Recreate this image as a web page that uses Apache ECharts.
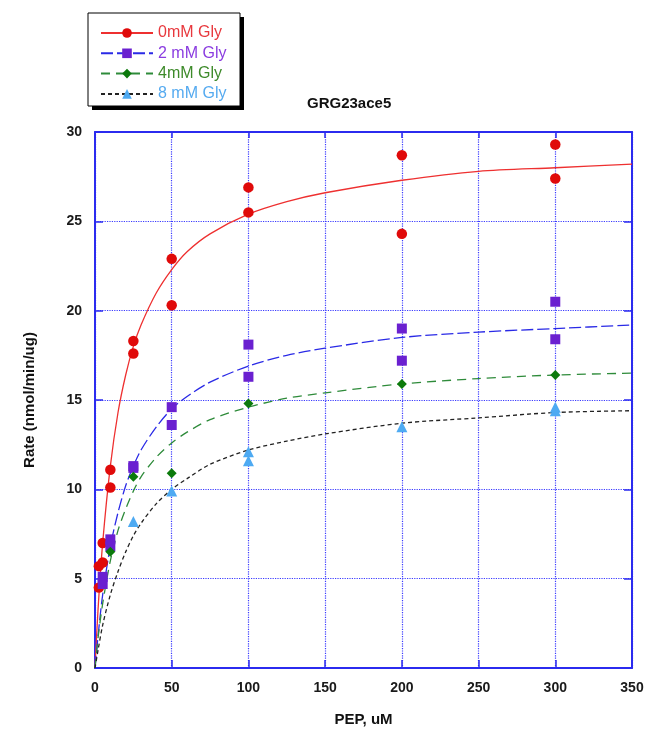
<!DOCTYPE html>
<html>
<head>
<meta charset="utf-8">
<title>GRG23ace5</title>
<script src="https://cdn.jsdelivr.net/npm/echarts@6/dist/echarts.min.js"></script>
<style>
  html, body { margin: 0; padding: 0; background: #fff; }
  #chart { width: 652px; height: 740px; }
</style>
</head>
<body>
<div id="chart"></div>
<script>
// measured points (PEP uM, rate)
const gly0X = [2.5, 2.5, 5, 5, 10, 10, 25, 25, 50, 50, 100, 100, 200, 200, 300, 300];
const gly0Y = [5.7, 4.5, 7.0, 5.9, 11.1, 10.1, 18.3, 17.6, 22.9, 20.3, 26.9, 25.5, 28.7, 24.3, 29.3, 27.4];
const gly2X = [5, 5, 10, 10, 25, 25, 50, 50, 100, 100, 200, 200, 300, 300];
const gly2Y = [5.1, 4.7, 7.2, 6.8, 11.3, 11.2, 14.6, 13.6, 18.1, 16.3, 19.0, 17.2, 20.5, 18.4];
const gly4X = [10, 25, 50, 100, 200, 300];
const gly4Y = [6.5, 10.7, 10.9, 14.8, 15.9, 16.4];
const gly8X = [25, 50, 100, 100, 200, 300, 300];
const gly8Y = [8.2, 9.9, 12.1, 11.6, 13.5, 14.6, 14.4];

// fitted curves
const curveX = [0, 2, 5, 10, 15, 20, 25, 30, 40, 50, 60, 75, 100, 125, 150, 200, 250, 300, 350];
const fit0 = [0, 3.3, 7.0, 11.3, 14.3, 16.4, 18.0, 19.2, 21.0, 22.3, 23.3, 24.3, 25.4, 26.1, 26.6, 27.3, 27.8, 28.0, 28.2];
const fit2 = [0, 1.8, 4.1, 6.8, 8.7, 10.2, 11.3, 12.2, 13.5, 14.5, 15.2, 16.0, 16.9, 17.5, 17.9, 18.5, 18.8, 19.0, 19.2];
const fit4 = [0, 1.7, 3.6, 6.0, 7.7, 8.9, 9.9, 10.7, 11.8, 12.6, 13.2, 13.9, 14.6, 15.1, 15.4, 15.9, 16.2, 16.4, 16.5];
const fit8 = [0, 1.0, 2.4, 4.1, 5.4, 6.5, 7.4, 8.1, 9.2, 10.0, 10.6, 11.4, 12.2, 12.7, 13.1, 13.7, 14.0, 14.3, 14.4];

const names = ['0mM Gly', '2 mM Gly', '4mM Gly', '8 mM Gly'];
const textColors = ['#e8383d', '#8a3ce0', '#3d8a2a', '#55aaf0'];

const pair = (xs, ys) => xs.map((x, i) => [x, ys[i]]);

const chart = echarts.init(document.getElementById('chart'));

const axisBlue = '#2b2bef';
const labelFont = { fontFamily: 'Liberation Sans, Arial, sans-serif', fontWeight: 'bold', fontSize: 14, color: '#1a1a1a' };

function curve(name, data, lineColor, dash, markColor, symbol) {
  return {
    name: name, type: 'line', data: data, smooth: 0.3,
    symbol: symbol, showSymbol: false, z: 2,
    itemStyle: { color: markColor },
    lineStyle: { color: lineColor, width: 1.3, type: dash },
    emphasis: { disabled: true }
  };
}
function points(name, data, color, symbol, size) {
  return {
    name: name, type: 'scatter', data: data, symbol: symbol, symbolSize: size, z: 5,
    itemStyle: { color: color, opacity: 1 }
  };
}

chart.setOption({
  animation: false,
  title: {
    text: 'GRG23ace5', left: 302, top: 91,
    textStyle: { fontFamily: 'Liberation Sans, Arial, sans-serif', fontWeight: 'bold', fontSize: 15, color: '#111' }
  },
  graphic: [
    { type: 'rect', z: 1, shape: { x: 92, y: 17, width: 152, height: 93 }, style: { fill: '#000' } },
    { type: 'rect', z: 2, shape: { x: 88, y: 13, width: 152, height: 93 }, style: { fill: '#fff', stroke: '#000', lineWidth: 1 } }
  ],
  legend: {
    orient: 'vertical', left: 100, top: 25, padding: 0,
    itemWidth: 52, itemHeight: 12, itemGap: 4.3,
    selectedMode: false,
    textStyle: { fontFamily: 'Liberation Sans, Arial, sans-serif', fontSize: 16, padding: [0, 0, 0, 0] },
    data: names.map((n, i) => ({ name: n, textStyle: { color: textColors[i] } }))
  },
  grid: { left: 95, right: 20, top: 132, bottom: 72, containLabel: false },
  xAxis: [
    {
      type: 'value', min: 0, max: 350, interval: 50, position: 'bottom',
      name: 'PEP, uM', nameLocation: 'middle', nameGap: 44,
      nameTextStyle: { fontFamily: 'Liberation Sans, Arial, sans-serif', fontWeight: 'bold', fontSize: 15, color: '#111' },
      axisLine: { onZero: false, lineStyle: { color: axisBlue, width: 2 } },
      axisTick: { inside: true, length: 8, lineStyle: { color: axisBlue, width: 1.5 } },
      axisLabel: Object.assign({ margin: 13 }, labelFont),
      splitLine: { show: true, lineStyle: { color: '#3b3bff', type: 'dotted', width: 1.2 } }
    },
    {
      type: 'value', min: 0, max: 350, interval: 50, position: 'top',
      axisLine: { onZero: false, lineStyle: { color: axisBlue, width: 2 } },
      axisTick: { inside: true, length: 6, lineStyle: { color: axisBlue, width: 1.5 } },
      axisLabel: { show: false }, splitLine: { show: false }
    }
  ],
  yAxis: [
    {
      type: 'value', min: 0, max: 30, interval: 5, position: 'left',
      name: 'Rate (nmol/min/ug)', nameLocation: 'middle', nameGap: 58,
      nameTextStyle: { fontFamily: 'Liberation Sans, Arial, sans-serif', fontWeight: 'bold', fontSize: 15, color: '#111' },
      axisLine: { onZero: false, lineStyle: { color: axisBlue, width: 2 } },
      axisTick: { inside: true, length: 8, lineStyle: { color: axisBlue, width: 1.5 } },
      axisLabel: Object.assign({ margin: 13 }, labelFont),
      splitLine: { show: true, lineStyle: { color: '#3b3bff', type: 'dotted', width: 1.2 } }
    },
    {
      type: 'value', min: 0, max: 30, interval: 5, position: 'right',
      axisLine: { onZero: false, lineStyle: { color: axisBlue, width: 2 } },
      axisTick: { inside: true, length: 8, lineStyle: { color: axisBlue, width: 1.5 } },
      axisLabel: { show: false }, splitLine: { show: false }
    }
  ],
  series: [
    curve(names[0], pair(curveX, fit0), '#ee3030', 'solid', '#e00a0a', 'circle'),
    curve(names[1], pair(curveX, fit2), '#2a2ae6', [12, 4], '#6a20d0', 'rect'),
    curve(names[2], pair(curveX, fit4), '#2e8b3a', [9, 6], '#0c7a0c', 'diamond'),
    curve(names[3], pair(curveX, fit8), '#222222', [4, 3], '#4eaaf2', 'triangle'),
    points(names[0], pair(gly0X, gly0Y), '#e00a0a', 'circle', 10.5),
    points(names[1], pair(gly2X, gly2Y), '#6a20d0', 'rect', 10),
    points(names[2], pair(gly4X, gly4Y), '#0c7a0c', 'diamond', 10),
    points(names[3], pair(gly8X, gly8Y), '#4eaaf2', 'triangle', 11)
  ]
});
</script>
</body>
</html>
